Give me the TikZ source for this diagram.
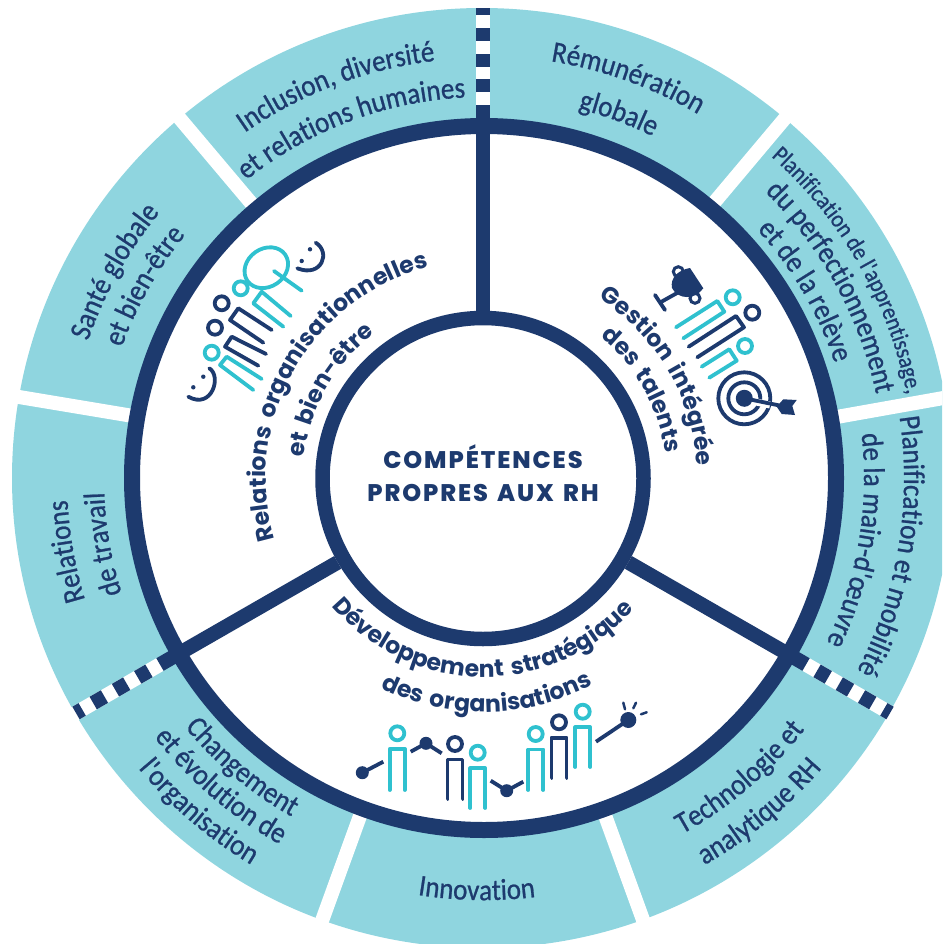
\documentclass[tikz,border=0pt]{standalone}
\usepackage{fontspec}
\usetikzlibrary{decorations.text}
\setmainfont{Carlito}
\newfontfamily\lblfam{Carlito}[FakeStretch=0.9,FakeBold=0.8]
\newfontfamily\headfam{Poppins}[WordSpace=1.6]
\newfontfamily\corefam{Poppins ExtraBold}[LetterSpace=8,WordSpace=1.4]
\definecolor{navy}{HTML}{1D3A6E}
\definecolor{tealc}{HTML}{2FC1CF}
\definecolor{pale}{HTML}{8FD5DF}
\newcommand\lbl{\fontsize{30pt}{30pt}\selectfont\lblfam}
\newcommand\lblb{\fontsize{30pt}{30pt}\selectfont\lblfam}
\newcommand\lblsm{\fontsize{24pt}{24pt}\selectfont\lblfam}
\newcommand\hd{\fontsize{23.5pt}{23.5pt}\selectfont\headfam\bfseries}
% text along an arc: radius, centre angle, font, text
\newcommand\cwtxt[4]{\path[decorate,decoration={text along path,text align=center,text color=navy,text={|#3|#4}}] (#2+70:#1) arc[start angle=#2+70,end angle=#2-70,radius=#1];}
\newcommand\cctxt[4]{\path[decorate,decoration={text along path,text align=center,text color=navy,text={|#3|#4}}] (#2-70:#1) arc[start angle=#2-70,end angle=#2+70,radius=#1];}
\tikzset{
  gapline/.style={draw=white,line width=14pt,shorten >=-20pt,shorten <=-8pt},
  divline/.style={draw=navy,line width=14.5pt},
  whiteline/.style={draw=white,line width=14.5pt,shorten >=-12pt},
  stripeline/.style={draw=navy,line width=14.5pt,dash pattern=on 13pt off 12.7pt,dash phase=13pt},
  navyln/.style={draw=navy,line width=3.8pt,line cap=round,line join=round},
  tealln/.style={draw=tealc,line width=3.8pt,line cap=round,line join=round},
  dotn/.style={fill=navy,draw=none},
}
\begin{document}
\begin{tikzpicture}[x=1pt,y=-1pt]
\useasboundingbox (0,0) rectangle (942,944);
\clip (0,0) rectangle (942,944);
\node[circle,fill=pale,inner sep=0pt,minimum size=940pt] (disc) at (482,478) {};
\coordinate (g1a) at (715.7,200.7); \coordinate (g1b) at (785,118.3);
\coordinate (g2a) at (838.3,416.7); \coordinate (g2b) at (941.7,398.3);
\coordinate (g3a) at (606.7,820);   \coordinate (g3b) at (643.3,920.7);
\coordinate (g4a) at (358.3,820.7); \coordinate (g4b) at (322,920.7);
\coordinate (g5a) at (127,415);     \coordinate (g5b) at (19,397);
\coordinate (g6a) at (250,201.7);   \coordinate (g6b) at (180,118.7);
\foreach \n in {1,...,6}{\draw[gapline] (g\n a) -- (g\n b);}
\node[circle,fill=white,inner sep=0pt,minimum size=704pt] (ringfill) at (484,478) {};
% stripes
\begin{scope}[shift={(483,478)},y=1pt]
\coordinate (st1a) at (90:352); \coordinate (st1b) at (90:373); \coordinate (st1c) at (90:470);
\coordinate (st2a) at (-30:352); \coordinate (st2b) at (-30:373); \coordinate (st2c) at (-30:470);
\coordinate (st3a) at (-150:352); \coordinate (st3b) at (-150:373); \coordinate (st3c) at (-150:470);
\end{scope}
\foreach \n in {1,2,3}{
  \draw[whiteline] (st\n b) -- (st\n c);
  \draw[divline] (st\n a) -- (st\n b);
  \draw[stripeline] (st\n b) -- (st\n c);
}

% --- bottom icon
\foreach \hx/\hy/\st/\bot in {397.3/733.3/tealln/790,455/744/navyln/799,477.7/752.7/tealln/808,535.7/734/tealln/790,559/722.3/navyln/778,582.7/711.7/tealln/767}{
  \draw[\st] (\hx,\hy) circle[radius=7];
  \draw[\st] (\hx-7.5,\bot) -- (\hx-7.5,\hy+15.5) -- (\hx+7.5,\hy+15.5) -- (\hx+7.5,\bot);
}
\fill[dotn] (362.3,772.7) circle[radius=6.5];
\fill[dotn] (426,743.3) circle[radius=6.5];
\fill[dotn] (506.7,790.7) circle[radius=6.5];
\fill[dotn] (628.3,720) circle[radius=8];
\draw[navyln,line cap=butt] (362.3,772.7) -- (383.3,761.7);
\draw[navyln,line cap=butt] (410.7,751.7) -- (426,743.3) -- (441.7,753.3);
\draw[navyln,line cap=butt] (490.7,780.7) -- (506.7,790.7) -- (523.3,781.7);
\draw[navyln,line cap=butt] (596,741.7) -- (628.3,720);
\draw[navy,line width=2.5pt,line cap=round] (623.3,702.7) -- (625,709.3) (636,702.7) -- (633.3,708.3) (646.7,712.3) -- (641,714.3);

% --- right icon
\draw[tealln] (732.7,297.3) circle[radius=7];
\draw[tealln] (676,327.3) -- (717.3,301) -- (724.3,311.7) -- (683.3,338.3);
\draw[navyln] (752.3,312.7) circle[radius=7];
\draw[navyln] (688.7,346.7) -- (736,316) -- (744,327.3) -- (697.3,357.3);
\draw[tealln] (745,346) circle[radius=7];
\draw[tealln] (701.7,366.7) -- (729.3,349.3) -- (736.7,360.7) -- (709.3,377.7);
% trophy
\fill[navy] (690,268) -- (703.3,288.3) .. controls (695,300) and (678,300) .. (672,288) .. controls (670,278) and (678,270) .. (690,268) -- cycle;
\draw[navy,line width=3pt] (678.3,271.7) circle[radius=5] (695,298.3) circle[radius=5];
\draw[navyln] (686,288) -- (661,302);
\draw[navyln] (655,295) -- (665,310);
% target
\draw[navyln] (744.3,398.3) circle[radius=26];
\draw[navyln] (744.3,398.3) circle[radius=16];
\fill[navy] (744.3,398.3) circle[radius=8.5];
\draw[white,line width=7pt] (752,401) -- (770,405);
\draw[navyln] (744.3,398.3) -- (782,406);
\fill[navy] (783.3,399.3) -- (796.7,400) -- (792.3,406) -- (795,415) -- (781.7,414) -- (776.7,406.7) -- cycle;

% --- left icon
\draw[tealln] (240.7,288.3) circle[radius=7];
\draw[tealln] (290.7,316) -- (261.7,291.7) -- (253.3,303.3) -- (283.3,326.7);
\draw[navyln] (221.7,303.3) circle[radius=7];
\draw[navyln] (271.7,330) -- (238.3,308.3) -- (230,320) -- (263.3,342.7);
\draw[navyln] (215,327.7) circle[radius=7];
\draw[navyln] (266,354) -- (231.7,336.7) -- (225,346.7) -- (258.3,365.7);
\draw[tealln] (211.7,352.7) circle[radius=7];
\draw[tealln] (261.7,379) -- (226.7,356.7) -- (220,365) -- (253.3,390);
\draw[tealln] (266.3,267.7) ellipse[x radius=23,y radius=19,rotate=35];
\draw[tealln] (274,271) -- (301.7,290.7);
\draw[navyln] (315.7,242.7) .. controls (331,252) and (322,278) .. (297.3,268.3);
\fill[navy] (310,249.3) circle[radius=2.2] (301.7,261) circle[radius=2.2];
\draw[navyln] (209.3,368.3) .. controls (222,376) and (212,410) .. (188.3,396.7);
\fill[navy] (203.3,376.7) circle[radius=2.2] (193.3,387.3) circle[radius=2.2];

% --- ring and centre
\node[circle,draw=navy,line width=16pt,inner sep=0pt,minimum size=704pt] (ring) at (484,478) {};
\node[circle,draw=navy,line width=14.5pt,fill=white,inner sep=0pt,minimum size=321pt] (core) at (483,478.5) {};
\node[align=center,text=navy,inner sep=0pt,font=\fontsize{24pt}{33pt}\selectfont\corefam] (coretext) at (483,473.5) {COMPÉTENCES\\PROPRES AUX RH};
\draw[divline] (core.90) -- (st1a);
\draw[divline] (core.-30) -- (st2a);
\draw[divline] (core.-150) -- (st3a);

% --- texts
\begin{scope}[shift={(484,478)},y=1pt]
\cwtxt{420}{110.7}{\lbl}{Inclusion, diversité}
\cwtxt{381}{110.7}{\lbl}{et relations humaines}
\cwtxt{422}{70.2}{\lbl}{Rémunération}
\cwtxt{381}{69.7}{\lbl}{globale}
\cwtxt{431}{29.7}{\lblsm}{Planification de l'apprentissage,}
\cwtxt{401}{28.8}{\lbl}{du perfectionnement}
\cwtxt{369}{30.2}{\lbl}{et de la relève}
\cwtxt{420}{-9.5}{\lbl}{Planification et mobilité}
\cwtxt{380}{-9.5}{\lbl}{de la main-d'œuvre}
\cctxt{407.5}{-49.5}{\lbl}{Technologie et}
\cctxt{445.4}{-50.5}{\lbl}{analytique RH}
\cctxt{422}{-91}{\lblb}{Innovation}
\cctxt{389.4}{-129.9}{\lbl}{Changement}
\cctxt{419.4}{-130.5}{\lbl}{et évolution de}
\cctxt{451.4}{-130.5}{\lbl}{l'organisation}
\cwtxt{417}{190}{\lbl}{Relations}
\cwtxt{380}{189.9}{\lbl}{de travail}
\cwtxt{419}{150.8}{\lbl}{Santé globale}
\cwtxt{385}{150.5}{\lbl}{et bien-être}
\cwtxt{218}{150.5}{\hd}{Relations organisationnelles}
\cwtxt{181}{150.3}{\hd}{et bien-être}
\cwtxt{213}{30.4}{\hd}{Gestion intégrée}
\cwtxt{183}{29.2}{\hd}{des talents}
\cctxt{199}{-90.5}{\hd}{Développement stratégique}
\cctxt{234}{-89.2}{\hd}{des organisations}
\end{scope}
\end{tikzpicture}
\end{document}
